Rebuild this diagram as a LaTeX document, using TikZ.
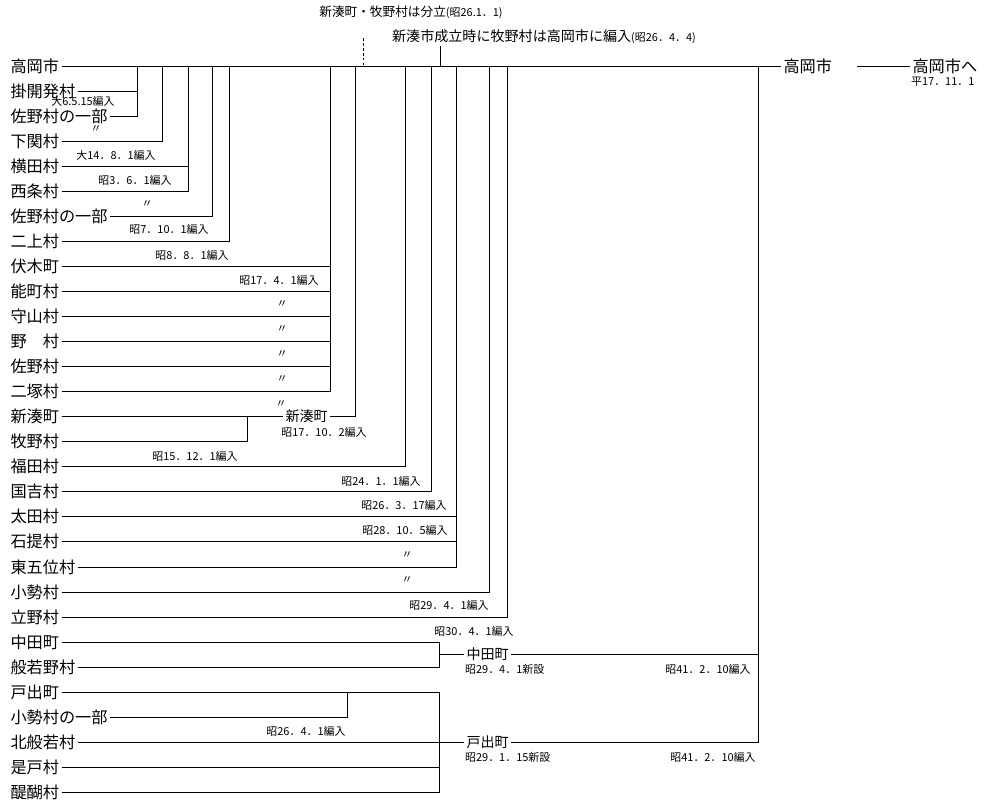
\documentclass[tikz,border=0pt]{standalone}
\usepackage{fontspec}
\setmainfont{Noto Sans CJK JP}
\usepackage{tikz}
\usetikzlibrary{positioning}
\tikzset{placenode/.style={anchor=west, inner sep=1.5pt, font=\fontsize{11.5}{12}\selectfont},}
\tikzset{townnode/.style={anchor=west, inner sep=1.5pt, font=\fontsize{10}{11}\selectfont},}
\tikzset{datenode/.style={inner sep=0.5pt, font=\fontsize{7.8}{8}\selectfont},}
\tikzset{titlenode/.style={inner sep=1pt, font=\fontsize{9}{10}\selectfont},}

\begin{document}
\begin{tikzpicture}[x=0.025cm, y=-0.025cm, line width=0.6pt]
\useasboundingbox (0,0) rectangle (992,800);
% left column
\node [placenode] (takaoka) at (8,66) {高岡市};
\node [placenode] (kakekai) at (8,91) {掛開発村};
\node [placenode] (sanoA) at (8,116) {佐野村の一部};
\node [placenode] (shimoseki) at (8,141) {下関村};
\node [placenode] (yokota) at (8,166) {横田村};
\node [placenode] (saijo) at (8,191) {西条村};
\node [placenode] (sanoB) at (8,216) {佐野村の一部};
\node [placenode] (futagami) at (8,241) {二上村};
\node [placenode] (fushiki) at (8,266) {伏木町};
\node [placenode] (nomachi) at (8,291) {能町村};
\node [placenode] (moriyama) at (8,316) {守山村};
\node [placenode] (nomura) at (8,341) {野　村};
\node [placenode] (sano) at (8,366) {佐野村};
\node [placenode] (futatsuka) at (8,391) {二塚村};
\node [placenode] (shinminato) at (8,416) {新湊町};
\node [placenode] (makino) at (8,441) {牧野村};
\node [placenode] (fukuda) at (8,466) {福田村};
\node [placenode] (kuniyoshi) at (8,491) {国吉村};
\node [placenode] (ota) at (8,516) {太田村};
\node [placenode] (ishizutsumi) at (8,541) {石提村};
\node [placenode] (higashigoi) at (8,567) {東五位村};
\node [placenode] (koze) at (8,592) {小勢村};
\node [placenode] (tateno) at (8,617) {立野村};
\node [placenode] (nakada) at (8,642) {中田町};
\node [placenode] (hannyano) at (8,667) {般若野村};
\node [placenode] (toide) at (8,692) {戸出町};
\node [placenode] (kozeB) at (8,717) {小勢村の一部};
\node [placenode] (kitahannya) at (8,742) {北般若村};
\node [placenode] (zedo) at (8,767) {是戸村};
\node [placenode] (daigo) at (8,792) {醍醐村};

% new towns and city
\node [placenode] (takaoka2) at (781,66) {高岡市};
\node [placenode] (final) at (910,66) {高岡市へ};
\node [townnode] (shinminato2) at (283,416) {新湊町};
\node [townnode] (nakada2) at (464,654) {中田町};
\node [townnode] (toide2) at (464,742) {戸出町};

% notes on top
\node [titlenode] (split) at (411,12) {新湊町・牧野村は分立{\fontsize{7.8}{8}\selectfont (昭26.1．1)}};
\node [titlenode, font=\fontsize{10}{11}\selectfont] (merge) at (544,37) {新湊市成立時に牧野村は高岡市に編入{\fontsize{7.8}{8}\selectfont (昭26．4．4)}};

% junctions on the trunk
\coordinate (j1) at (137,66);
\coordinate (j2) at (162,66);
\coordinate (j3) at (188,66);
\coordinate (j4) at (212,66);
\coordinate (j5) at (229,66);
\coordinate (j6) at (330,66);
\coordinate (j7) at (355,66);
\coordinate (j8) at (440,66);
\coordinate (j9) at (405,66);
\coordinate (j10) at (431,66);
\coordinate (j11) at (456,66);
\coordinate (j12) at (489,66);
\coordinate (j13) at (507,66);
\coordinate (j14) at (758,66);
\coordinate (d0) at (363,38);
\coordinate (d1) at (363,66);
\coordinate (gap) at (857,66);

\draw (takaoka) -- (takaoka2);
\draw (gap) -- (final);
\draw [dash pattern=on 2pt off 1.5pt] (d0) -- (d1);
\draw (merge.south -| j8) -- (j8);

\draw (kakekai) -- (kakekai -| j1);
\draw (sanoA) -| (j1);
\draw (shimoseki) -| (j2);
\draw (yokota) -- (yokota -| j3);
\draw (saijo) -| (j3);
\draw (sanoB) -| (j4);
\draw (futagami) -| (j5);
\draw (fushiki) -- (fushiki -| j6);
\draw (nomachi) -- (nomachi -| j6);
\draw (moriyama) -- (moriyama -| j6);
\draw (nomura) -- (nomura -| j6);
\draw (sano) -- (sano -| j6);
\draw (futatsuka) -| (j6);

\coordinate (m1) at (247,416);
\draw (shinminato) -- (shinminato2);
\draw (makino) -| (m1);
\draw (shinminato2) -| (j7);

\draw (fukuda) -| (j9);
\draw (kuniyoshi) -| (j10);
\draw (ota) -- (ota -| j11);
\draw (ishizutsumi) -- (ishizutsumi -| j11);
\draw (higashigoi) -| (j11);
\draw (koze) -| (j12);
\draw (tateno) -| (j13);

% nakada
\coordinate (n1) at (439,654);
\draw (nakada) -| (n1);
\draw (hannyano) -| (n1);
\draw (n1) -- (nakada2);
\draw (nakada2) -| (j14);

% toide
\coordinate (k1) at (347,692);
\coordinate (t1) at (439,742);
\draw (kozeB) -| (k1);
\draw (toide) -| (t1);
\draw (daigo) -| (t1);
\draw (zedo) -- (zedo -| t1);
\draw (kitahannya) -- (toide2);
\draw (toide2) -| (j14);

% dates
\node [datenode] (e1) at (83,101) {大6.5.15編入};
\node [datenode] (e2) at (96,129) {〃};
\node [datenode] (e3) at (116,155) {大14．8．1編入};
\node [datenode] (e4) at (135,180) {昭3．6．1編入};
\node [datenode] (e5) at (147,204) {〃};
\node [datenode] (e6) at (169,229) {昭7．10．1編入};
\node [datenode] (e7) at (192,255) {昭8．8．1編入};
\node [datenode] (e8) at (279,280) {昭17．4．1編入};
\node [datenode] (e9) at (282,304) {〃};
\node [datenode] (e10) at (282,329) {〃};
\node [datenode] (e11) at (282,354) {〃};
\node [datenode] (e12) at (282,379) {〃};
\node [datenode] (e13) at (281,404) {〃};
\node [datenode] (e14) at (324,432) {昭17．10．2編入};
\node [datenode] (e15) at (195,456) {昭15．12．1編入};
\node [datenode] (e16) at (381,481) {昭24．1．1編入};
\node [datenode] (e17) at (404,505) {昭26．3．17編入};
\node [datenode] (e18) at (405,530) {昭28．10．5編入};
\node [datenode] (e19) at (407,555) {〃};
\node [datenode] (e20) at (407,580) {〃};
\node [datenode] (e21) at (449,605) {昭29．4．1編入};
\node [datenode] (e22) at (474,631) {昭30．4．1編入};
\node [datenode, below=0pt of nakada2.south west, anchor=north west] (e23) {昭29．4．1新設};
\node [datenode] (e24) at (708,669) {昭41．2．10編入};
\node [datenode] (e25) at (306,731) {昭26．4．1編入};
\node [datenode, below=0pt of toide2.south west, anchor=north west] (e26) {昭29．1．15新設};
\node [datenode] (e27) at (713,757) {昭41．2．10編入};
\node [datenode, below=0pt of final.south west, anchor=north west] (e28) {平17．11．1};
\end{tikzpicture}
\end{document}
